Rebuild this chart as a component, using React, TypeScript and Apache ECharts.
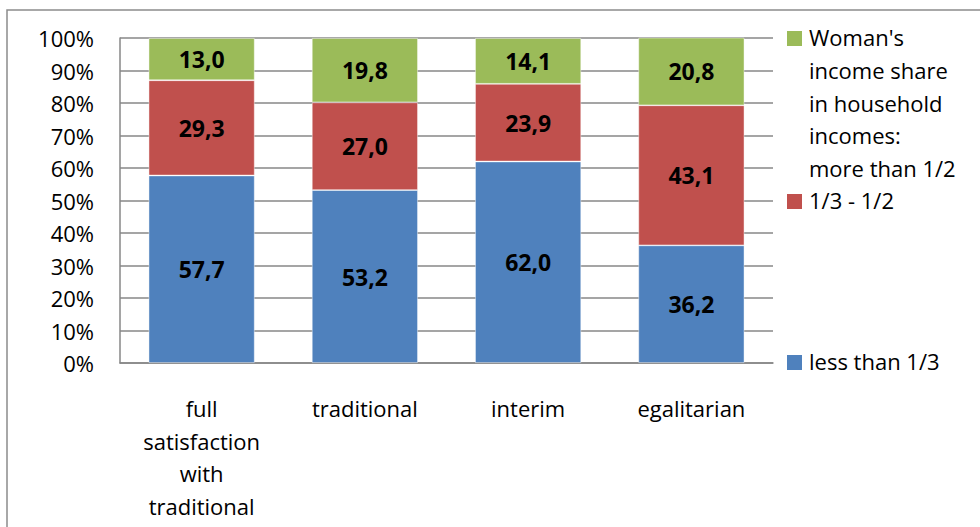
import React, { useEffect, useRef } from "react";
import * as echarts from "echarts";

// Attitude groups along the x axis
const categories = [
  "full\nsatisfaction\nwith\ntraditional",
  "traditional",
  "interim",
  "egalitarian",
];

// Woman's income share in household incomes, % of each group
const lessThanThird = [57.7, 53.2, 62.0, 36.2];
const thirdToHalf = [29.3, 27.0, 23.9, 43.1];
const moreThanHalf = [13.0, 19.8, 14.1, 20.8];

const seriesNames = [
  "less than 1/3",
  "1/3 - 1/2",
  "Woman's\nincome share\nin household\nincomes:\nmore than 1/2",
];

const BLUE = "#4F81BD";
const RED = "#C0504D";
const GREEN = "#9BBB59";
const FONT = "'Open Sans', 'Noto Sans', sans-serif";

export default function App() {
  const ref = useRef<HTMLDivElement>(null);

  useEffect(() => {
    if (!ref.current) return;
    const chart = echarts.init(ref.current, null, { renderer: "svg" });

    const labelStyle = {
      show: true,
      position: "inside" as const,
      color: "#000",
      fontFamily: FONT,
      fontWeight: "bold" as const,
      fontSize: 23,
      formatter: (p: any) => Number(p.value).toFixed(1).replace(".", ","),
    };

    const makeSeries = (name: string, data: number[], color: string) => ({
      name,
      type: "bar" as const,
      stack: "total",
      data,
      barWidth: "65%",
      itemStyle: {
        color,
        borderColor: "rgba(255,255,255,0.55)",
        borderWidth: 0.8,
      },
      label: labelStyle,
    });

    const legendEntry = (top: number, color: string, text: string) => [
      {
        type: "rect",
        shape: { x: 787, y: top + 10, width: 15, height: 15 },
        style: { fill: color },
      },
      {
        type: "text",
        x: 809,
        y: top,
        style: {
          text,
          fill: "#000",
          font: `22px ${FONT}`,
          lineHeight: 32.6,
          verticalAlign: "top",
          align: "left",
        },
      },
    ];

    chart.setOption({
      animation: false,
      backgroundColor: "#fff",
      grid: { left: 120, top: 38, right: 207, bottom: 164 },
      xAxis: {
        type: "category",
        data: categories,
        axisLine: { show: true, lineStyle: { color: "#878787", width: 1.5 } },
        axisTick: { show: false },
        axisLabel: {
          color: "#000",
          fontFamily: FONT,
          fontSize: 22,
          lineHeight: 32.5,
          margin: 29,
          interval: 0,
        },
      },
      yAxis: {
        type: "value",
        min: 0,
        max: 100,
        interval: 10,
        axisLine: { show: true, lineStyle: { color: "#878787", width: 1.5 } },
        axisTick: { show: false },
        splitLine: { show: true, lineStyle: { color: "#878787", width: 1.5 } },
        axisLabel: {
          color: "#000",
          fontFamily: FONT,
          fontSize: 22,
          margin: 26,
          formatter: "{value}%",
        },
      },
      series: [
        makeSeries(seriesNames[0], lessThanThird, BLUE),
        makeSeries(seriesNames[1], thirdToHalf, RED),
        makeSeries(seriesNames[2], moreThanHalf, GREEN),
      ],
      graphic: [
        {
          type: "rect",
          shape: { x: 7, y: 10, width: 1000, height: 600 },
          style: { fill: "none", stroke: "#8c8c8c", lineWidth: 1.5 },
          silent: true,
        },
        ...legendEntry(21, GREEN, seriesNames[2]),
        ...legendEntry(184, RED, seriesNames[1]),
        ...legendEntry(345, BLUE, seriesNames[0]),
      ],
    });

    return () => chart.dispose();
  }, []);

  return (
    <div
      ref={ref}
      style={{ position: "fixed", left: 0, top: 0, width: 980, height: 527 }}
    />
  );
}
